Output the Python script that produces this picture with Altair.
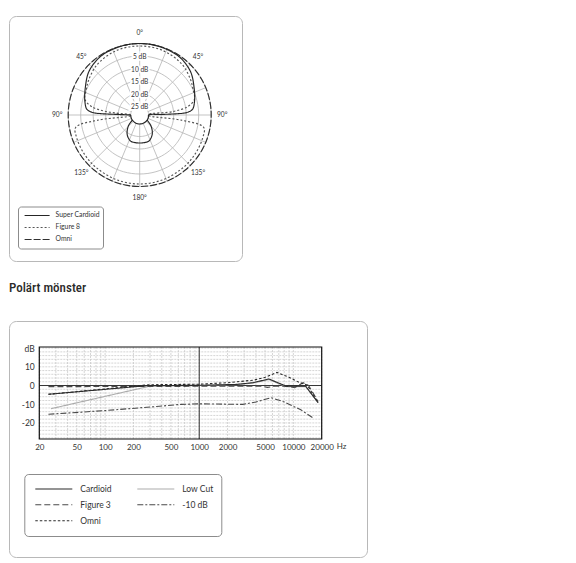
import altair as alt
import pandas as pd

# ---------------- Polar pattern data ----------------
# angle: degrees from the front (0 = top), level: dB below the 0 dB ring
POLAR_NAMES = ["Super Cardioid", "Figure 8", "Omni"]

sc_front_ang = [0, 15, 33, 49, 63, 76, 84, 87, 88, 88.5, 90]
sc_front_db = [0, 0.1, 0.4, 1.8, 4.2, 6.0, 7.4, 9.8, 13.1, 19.8, 25]
sc_floor_ang = [90, 105, 120, 135, 150, 165, 180]
sc_floor_db = [25, 25, 25, 25, 25, 25, 25]
sc_rear_ang = [125, 134, 147, 160, 170, 180]
sc_rear_db = [25, 22.3, 19.4, 17.6, 17.4, 17.4]

f8_front_ang = [0, 20, 40, 55, 65, 74, 80, 84, 86.5]
f8_front_db = [1, 1.2, 2.2, 3.8, 5.0, 5.8, 9, 15, 25]
f8_rear_ang = [93.5, 97, 101, 110, 125, 140, 160, 180]
f8_rear_db = [25, 12, 2.5, 1.8, 1.5, 1.3, 1.1, 1.0]

omni_ang = [0, 10, 20, 30, 40, 50, 60, 70, 80, 90, 100, 110, 120, 130, 140, 150, 160, 170, 180]
omni_db = [0, 0, 0, 0, 0, 0, 0, 0, 0, 0, 0, 0, 0, 0, 0, 0, 0, 0, 0]

ring_levels = [0, 5, 10, 15, 20, 25]
spoke_angles = [0, 22.5, 45, 67.5, 90, 112.5, 135, 157.5, 180, 202.5, 225, 247.5, 270, 292.5, 315, 337.5]
db_label_levels = [5, 10, 15, 20, 25]
db_label_texts = ["5 dB", "10 dB", "15 dB", "20 dB", "25 dB"]
angle_label_angles = [0, -45, 45, -90, 90, -135, 135, 180]
angle_label_texts = ["0°", "45°", "45°", "90°", "90°", "135°", "135°", "180°"]

# ---------------- Frequency response data ----------------
FR_NAMES = ["Cardioid", "Figure 3", "Omni", "Low Cut", "-10 dB"]

card_f = [25, 290, 1000, 2500, 3700, 5500, 8350, 13500, 18300]
card_db = [-4.7, 0, 0.1, 0.6, 1.5, 3.5, -0.3, -0.3, -9.2]
low_f = [26.6, 290, 1000, 2500, 3700, 5500, 8350, 13500, 18300]
low_db = [-12.4, -0.5, 0, 0.5, 1.3, 3.2, -0.6, -0.6, -9.0]
fig3_f = [25, 300, 1000, 4500, 5300, 6500, 9000, 10300, 12700, 14500, 18300]
fig3_db = [-0.6, -0.5, -0.4, -0.3, -1.0, -0.3, -0.5, -1.2, 1.5, 0, -8.5]
m10_f = [25, 100, 300, 640, 1000, 2900, 4000, 5800, 8000, 12000, 16000]
m10_db = [-15.4, -13.4, -11.5, -10.1, -9.8, -10.1, -8.8, -6.5, -8.8, -13.0, -17.2]
omni_f = [25, 290, 1000, 2000, 3800, 5000, 6700, 9000, 11500, 14000, 18300]
omni_fdb = [-4.7, 0.4, 0.7, 1.5, 2.9, 4.4, 7.0, 4.4, 1.7, 0.3, -9.0]

freq_grid = [20, 30, 40, 50, 60, 70, 80, 90, 100, 200, 300, 400, 500, 600, 700, 800, 900,
             1000, 2000, 3000, 4000, 5000, 6000, 7000, 8000, 9000, 10000, 20000]
db_grid = list(range(-28, 21, 2))
x_ticks = [20, 50, 100, 200, 500, 1000, 2000, 5000, 10000, 20000]
y_ticks = [20, 10, 0, -10, -20]
x_unit = "Hz"

# ---------------- build polar tables ----------------
def front(ang, db):
    left = [(-a, d) for a, d in zip(reversed(ang), reversed(db))]
    return left + list(zip(ang[1:], db[1:]))

def back(ang, db):
    left = [(-a, d) for a, d in zip(reversed(ang[:-1]), reversed(db[:-1]))]
    return list(zip(ang, db)) + left

sc_main = front(sc_front_ang, sc_front_db) + back(sc_floor_ang, sc_floor_db)[1:]
sc_rear = back(sc_rear_ang, sc_rear_db)
f8_path = front(f8_front_ang, f8_front_db) + back(f8_rear_ang, f8_rear_db)
f8_path = f8_path + [f8_path[0]]
omni_path = back(omni_ang, omni_db)

rows = []
for name, segs in [("Omni", [omni_path]), ("Figure 8", [f8_path]),
                   ("Super Cardioid", [sc_main, sc_rear])]:
    for si, seg in enumerate(segs):
        for k, (a, d) in enumerate(seg):
            rows.append({"pattern": name, "seg": f"{name}{si}", "ord": k, "ang": a, "db": d})
polar_df = pd.DataFrame(rows)

ring_rows = []
for lv in ring_levels:
    for a in range(0, 361, 4):
        ring_rows.append({"ring": lv, "ang": a, "db": lv})
ring_df = pd.DataFrame(ring_rows)
spoke_df = pd.DataFrame({"ang": spoke_angles})
dblab_df = pd.DataFrame({"db": db_label_levels, "txt": db_label_texts})
anglab_df = pd.DataFrame({"ang": angle_label_angles, "txt": angle_label_texts})

R0 = 28.6
X_DOM = [-52.28, 40.92]
Y_DOM = [-58.4, 39.6]
FONT = "Lato"

px = alt.X("px:Q", scale=alt.Scale(domain=X_DOM, nice=False, zero=False), axis=None)
py = alt.Y("py:Q", scale=alt.Scale(domain=Y_DOM, nice=False, zero=False), axis=None)

def polar_calc(ch, rexpr):
    return ch.transform_calculate(
        rr=rexpr,
        px=f"({rexpr}) * sin(datum.ang * PI / 180)",
        py=f"({rexpr}) * cos(datum.ang * PI / 180)",
    )

rings = polar_calc(alt.Chart(ring_df), f"{R0} - datum.db").mark_line(
    color="#b4b4b4", strokeWidth=0.8
).encode(x=px, y=py, detail="ring:N", order="ang:Q")

spokes = alt.Chart(spoke_df).transform_calculate(
    ix=f"{R0 - 25} * sin(datum.ang * PI / 180)",
    iy=f"{R0 - 25} * cos(datum.ang * PI / 180)",
    ox=f"{R0} * sin(datum.ang * PI / 180)",
    oy=f"{R0} * cos(datum.ang * PI / 180)",
).mark_rule(color="#b4b4b4", strokeWidth=0.8).encode(
    x=alt.X("ix:Q", scale=alt.Scale(domain=X_DOM, nice=False, zero=False), axis=None),
    y=alt.Y("iy:Q", scale=alt.Scale(domain=Y_DOM, nice=False, zero=False), axis=None),
    x2="ox:Q", y2="oy:Q",
)

polar_legend = alt.Legend(
    title=None, orient="none", legendX=9, legendY=190.5, symbolType="stroke",
    symbolSize=625, symbolStrokeWidth=1.1, clipHeight=11.9, padding=3,
    symbolOffset=2.6, labelOffset=5, labelFont=FONT, labelFontSize=6.8,
    labelColor="#333333", strokeColor="#8c8c8c", cornerRadius=3, rowPadding=0,
)

curves = polar_calc(alt.Chart(polar_df), f"{R0} - datum.db").mark_line(
    strokeWidth=1.15, interpolate="catmull-rom"
).encode(
    x=px, y=py, detail="seg:N", order="ord:Q",
    color=alt.Color("pattern:N", scale=alt.Scale(domain=POLAR_NAMES,
                    range=["#262626", "#555555", "#303030"]), legend=polar_legend),
    strokeDash=alt.StrokeDash("pattern:N", scale=alt.Scale(domain=POLAR_NAMES,
                    range=[[1, 0], [2, 2], [7, 2]]), legend=polar_legend),
)

dblab_base = alt.Chart(dblab_df).transform_calculate(
    px="0", py=f"{R0} - datum.db"
)
dblab_halo = dblab_base.mark_text(
    font=FONT, fontSize=6.6, color="white", stroke="white", strokeWidth=3.5, dy=1
).encode(x=px, y=py, text="txt:N")
dblab = dblab_base.mark_text(
    font=FONT, fontSize=6.6, color="#333333", dy=1
).encode(x=px, y=py, text="txt:N")

anglab = polar_calc(alt.Chart(anglab_df), "33").mark_text(
    font=FONT, fontSize=6.6, color="#333333"
).encode(x=px, y=py, text="txt:N")

polar = alt.layer(rings, spokes, curves, dblab_halo, dblab, anglab).properties(
    width=233, height=245
)

# ---------------- frequency response chart ----------------
fr_rows = []
for name, fs, ds in [("Low Cut", low_f, low_db), ("-10 dB", m10_f, m10_db),
                     ("Figure 3", fig3_f, fig3_db), ("Omni", omni_f, omni_fdb),
                     ("Cardioid", card_f, card_db)]:
    for k, (f, d) in enumerate(zip(fs, ds)):
        fr_rows.append({"curve": name, "ord": k, "freq": f, "db": d})
fr_df = pd.DataFrame(fr_rows)

Y_LO, Y_HI = -28.6, 20.6
xs = alt.Scale(type="log", domain=[20, 20000], range=[30.3, 312.7], nice=False)
ys = alt.Scale(domain=[Y_LO, Y_HI], range=[118, 26], nice=False, zero=False)
x_axis = alt.Axis(values=x_ticks, labelExpr="'' + datum.value",
                  offset=-118, domain=False, ticks=False, grid=False, labelPadding=4,
                  labelFont=FONT, labelFontSize=8, labelColor="#333333", minExtent=0,
                  labelOverlap=False, labelFlush=False, title=None)
y_axis = alt.Axis(values=y_ticks, labelExpr="datum.value == 20 ? 'dB' : '' + datum.value",
                  offset=-30.3, domain=False, ticks=False, grid=False, labelPadding=5,
                  labelFont=FONT, labelFontSize=8.5, labelColor="#333333", minExtent=0,
                  labelOverlap=False, labelFlush=False, title=None)
fx = alt.X("freq:Q", scale=xs, axis=x_axis)
fy = alt.Y("db:Q", scale=ys, axis=y_axis)

vgrid = alt.Chart(pd.DataFrame({"freq": freq_grid})).mark_rule(
    color="#c4c4c4", strokeWidth=0.7, strokeDash=[2, 1]
).encode(x=fx, y=alt.datum(Y_LO), y2=alt.datum(Y_HI))
hgrid = alt.Chart(pd.DataFrame({"db": db_grid})).mark_rule(
    color="#c4c4c4", strokeWidth=0.7, strokeDash=[2, 1]
).encode(y=fy, x=alt.datum(20), x2=alt.datum(20000))
vmain = alt.Chart(pd.DataFrame({"freq": [1000]})).mark_rule(
    color="#333333", strokeWidth=1
).encode(x=fx, y=alt.datum(Y_LO), y2=alt.datum(Y_HI))
hmain = alt.Chart(pd.DataFrame({"db": [0]})).mark_rule(
    color="#333333", strokeWidth=1
).encode(y=fy, x=alt.datum(20), x2=alt.datum(20000))
frame = alt.Chart(pd.DataFrame({"freq": [20], "freq2": [20000], "db": [Y_LO], "db2": [Y_HI]})).mark_rect(
    fill="transparent", stroke="#111111", strokeWidth=1.2
).encode(x=fx, x2="freq2:Q", y=fy, y2="db2:Q")
unit_text = alt.Chart(pd.DataFrame({"freq": [x_ticks[-1]], "db": [Y_LO], "txt": [x_unit]})).mark_text(
    font=FONT, fontSize=8, color="#333333", align="left", baseline="top", dx=15, dy=4
).encode(x=fx, y=fy, text="txt:N")

fr_legend = alt.Legend(
    title=None, orient="none", legendX=15.3, legendY=153, columns=2,
    symbolType="stroke", symbolSize=1369, symbolStrokeWidth=1.1, clipHeight=15.5,
    padding=7, symbolOffset=3, labelOffset=7, labelFont=FONT, labelFontSize=8.5,
    labelColor="#333333", columnPadding=21, strokeColor="#8c8c8c", cornerRadius=4,
    rowPadding=0,
)
fr_lines = alt.Chart(fr_df).mark_line(strokeWidth=1.1).encode(
    x=fx, y=fy, order="ord:Q",
    color=alt.Color("curve:N", scale=alt.Scale(domain=FR_NAMES,
                    range=["#2b2b2b", "#4a4a4a", "#2b2b2b", "#ababab", "#4a4a4a"]), legend=fr_legend),
    strokeDash=alt.StrokeDash("curve:N", scale=alt.Scale(domain=FR_NAMES,
                    range=[[1, 0], [6, 3], [2.5, 2], [1, 0], [6, 2, 2, 2]]), legend=fr_legend),
)

freq_chart = alt.layer(vgrid, hgrid, vmain, hmain, frame, fr_lines, unit_text).properties(
    width=358, height=236,
    title=alt.TitleParams("Polärt mönster", anchor="start", fontSize=13,
                          font="Liberation Sans Narrow, Roboto Condensed, Roboto",
                          fontWeight=500, color="#2a2a2a", offset=26),
)

chart = alt.vconcat(polar, freq_chart, spacing=19).resolve_scale(
    color="independent", strokeDash="independent", x="independent", y="independent"
).resolve_legend(color="independent", strokeDash="independent").properties(
    padding={"left": 0, "top": 7, "right": 0, "bottom": 0}
).configure_view(stroke="#b8b8b8", cornerRadius=7, strokeWidth=1)

chart.save("out.html", embed_options={"renderer": "svg", "actions": False})
